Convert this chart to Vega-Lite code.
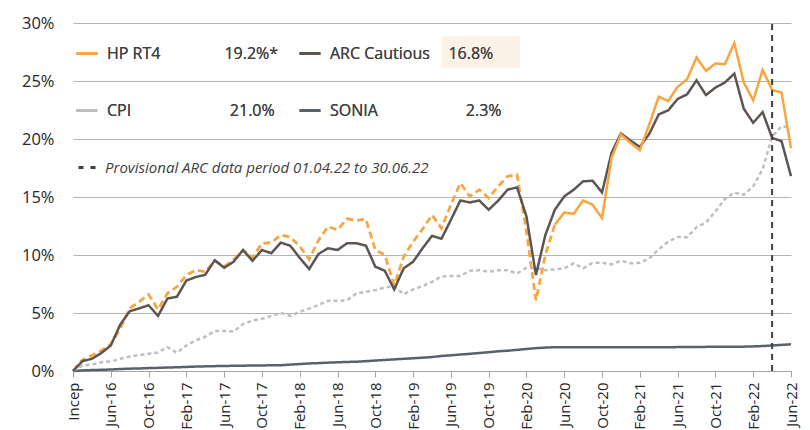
{
  "$schema": "https://vega.github.io/schema/vega-lite/v6.json",
  "width": 718,
  "height": 348,
  "autosize": {"type": "none"},
  "padding": {"left": 73, "top": 23, "right": 19, "bottom": 59},
  "background": "white",
  "config": {
    "view": {"stroke": null},
    "font": "Open Sans",
    "axisX": {"labelFlush": false, "labelAngle": -90, "labelAlign": "right", "labelBaseline": "middle", "labelFontSize": 15, "labelColor": "#262626", "labelPadding": 5, "tickSize": 6, "tickColor": "#A6A6A6", "domainColor": "#A6A6A6", "grid": false},
    "axisY": {"grid": true, "gridColor": "#B4B4B4", "domain": false, "ticks": false, "labelPadding": 19, "labelFontSize": 16.5, "labelColor": "#262626"}
  },
  "data": {"values": [
    {"m":0,"hp":0,"arc":0,"cpi":0,"sonia":0},
    {"m":1,"hp":0.95,"arc":0.85,"cpi":0.47,"sonia":0.05},
    {"m":2,"hp":1.34,"arc":1.05,"cpi":0.56,"sonia":0.08},
    {"m":3,"hp":1.77,"arc":1.55,"cpi":0.76,"sonia":0.10},
    {"m":4,"hp":2.3,"arc":2.2,"cpi":0.82,"sonia":0.13},
    {"m":5,"hp":3.65,"arc":4.0,"cpi":1.05,"sonia":0.17},
    {"m":6,"hp":5.4,"arc":5.15,"cpi":1.25,"sonia":0.20},
    {"m":7,"hp":5.96,"arc":5.4,"cpi":1.37,"sonia":0.22},
    {"m":8,"hp":6.6,"arc":5.67,"cpi":1.49,"sonia":0.25},
    {"m":9,"hp":5.3,"arc":4.75,"cpi":1.6,"sonia":0.27},
    {"m":10,"hp":6.7,"arc":6.25,"cpi":2.06,"sonia":0.30},
    {"m":11,"hp":7.26,"arc":6.4,"cpi":1.57,"sonia":0.32},
    {"m":12,"hp":8.27,"arc":7.8,"cpi":2.2,"sonia":0.35},
    {"m":13,"hp":8.7,"arc":8.1,"cpi":2.64,"sonia":0.38},
    {"m":14,"hp":8.55,"arc":8.3,"cpi":2.95,"sonia":0.40},
    {"m":15,"hp":9.5,"arc":9.55,"cpi":3.45,"sonia":0.42},
    {"m":16,"hp":9.0,"arc":8.9,"cpi":3.45,"sonia":0.43},
    {"m":17,"hp":9.6,"arc":9.42,"cpi":3.4,"sonia":0.45},
    {"m":18,"hp":10.4,"arc":10.43,"cpi":4.05,"sonia":0.46},
    {"m":19,"hp":9.8,"arc":9.5,"cpi":4.35,"sonia":0.47},
    {"m":20,"hp":11.0,"arc":10.43,"cpi":4.5,"sonia":0.48},
    {"m":21,"hp":11.07,"arc":10.15,"cpi":4.75,"sonia":0.49},
    {"m":22,"hp":11.73,"arc":11.07,"cpi":5.0,"sonia":0.50},
    {"m":23,"hp":11.55,"arc":10.8,"cpi":4.75,"sonia":0.55},
    {"m":24,"hp":10.75,"arc":9.75,"cpi":5.1,"sonia":0.60},
    {"m":25,"hp":9.63,"arc":8.79,"cpi":5.38,"sonia":0.65},
    {"m":26,"hp":11.3,"arc":10.1,"cpi":5.7,"sonia":0.68},
    {"m":27,"hp":12.45,"arc":10.58,"cpi":6.05,"sonia":0.72},
    {"m":28,"hp":12.16,"arc":10.43,"cpi":6.05,"sonia":0.75},
    {"m":29,"hp":13.12,"arc":11.01,"cpi":6.1,"sonia":0.78},
    {"m":30,"hp":12.97,"arc":11.01,"cpi":6.68,"sonia":0.80},
    {"m":31,"hp":13.09,"arc":10.81,"cpi":6.83,"sonia":0.85},
    {"m":32,"hp":10.43,"arc":8.99,"cpi":6.97,"sonia":0.90},
    {"m":33,"hp":10.0,"arc":8.64,"cpi":7.2,"sonia":0.95},
    {"m":34,"hp":7.4,"arc":7.03,"cpi":7.32,"sonia":1.00},
    {"m":35,"hp":9.85,"arc":8.85,"cpi":6.62,"sonia":1.05},
    {"m":36,"hp":11.15,"arc":9.42,"cpi":7.03,"sonia":1.10},
    {"m":37,"hp":12.23,"arc":10.58,"cpi":7.32,"sonia":1.15},
    {"m":38,"hp":13.46,"arc":11.65,"cpi":7.69,"sonia":1.20},
    {"m":39,"hp":12.3,"arc":11.4,"cpi":8.15,"sonia":1.30},
    {"m":40,"hp":14.33,"arc":13.03,"cpi":8.2,"sonia":1.35},
    {"m":41,"hp":16.2,"arc":14.7,"cpi":8.2,"sonia":1.42},
    {"m":42,"hp":15.05,"arc":14.53,"cpi":8.64,"sonia":1.48},
    {"m":43,"hp":15.63,"arc":14.7,"cpi":8.69,"sonia":1.55},
    {"m":44,"hp":14.91,"arc":13.9,"cpi":8.55,"sonia":1.62},
    {"m":45,"hp":15.92,"arc":14.68,"cpi":8.69,"sonia":1.70},
    {"m":46,"hp":16.78,"arc":15.63,"cpi":8.69,"sonia":1.75},
    {"m":47,"hp":16.93,"arc":15.83,"cpi":8.41,"sonia":1.82},
    {"m":48,"hp":12.0,"arc":13.32,"cpi":8.9,"sonia":1.90},
    {"m":49,"hp":6.1,"arc":8.27,"cpi":8.85,"sonia":1.97},
    {"m":50,"hp":10.0,"arc":11.73,"cpi":8.69,"sonia":2.02},
    {"m":51,"hp":12.6,"arc":13.9,"cpi":8.76,"sonia":2.05},
    {"m":52,"hp":13.66,"arc":15.05,"cpi":8.85,"sonia":2.05},
    {"m":53,"hp":13.55,"arc":15.63,"cpi":9.28,"sonia":2.05},
    {"m":54,"hp":14.7,"arc":16.35,"cpi":8.85,"sonia":2.05},
    {"m":55,"hp":14.33,"arc":16.4,"cpi":9.33,"sonia":2.05},
    {"m":56,"hp":13.18,"arc":15.39,"cpi":9.33,"sonia":2.05},
    {"m":57,"hp":18.37,"arc":18.8,"cpi":9.19,"sonia":2.05},
    {"m":58,"hp":20.39,"arc":20.48,"cpi":9.51,"sonia":2.05},
    {"m":59,"hp":19.67,"arc":19.87,"cpi":9.28,"sonia":2.05},
    {"m":60,"hp":19.03,"arc":19.32,"cpi":9.33,"sonia":2.05},
    {"m":61,"hp":21.26,"arc":20.45,"cpi":9.71,"sonia":2.05},
    {"m":62,"hp":23.65,"arc":22.12,"cpi":10.5,"sonia":2.05},
    {"m":63,"hp":23.27,"arc":22.47,"cpi":11.15,"sonia":2.05},
    {"m":64,"hp":24.5,"arc":23.45,"cpi":11.55,"sonia":2.06},
    {"m":65,"hp":25.15,"arc":23.85,"cpi":11.53,"sonia":2.06},
    {"m":66,"hp":27.03,"arc":25.06,"cpi":12.4,"sonia":2.06},
    {"m":67,"hp":25.87,"arc":23.79,"cpi":12.8,"sonia":2.08},
    {"m":68,"hp":26.51,"arc":24.43,"cpi":13.75,"sonia":2.08},
    {"m":69,"hp":26.45,"arc":24.87,"cpi":14.82,"sonia":2.08},
    {"m":70,"hp":28.27,"arc":25.64,"cpi":15.39,"sonia":2.08},
    {"m":71,"hp":24.87,"arc":22.61,"cpi":15.19,"sonia":2.10},
    {"m":72,"hp":23.33,"arc":21.4,"cpi":15.92,"sonia":2.12},
    {"m":73,"hp":25.96,"arc":22.32,"cpi":17.4,"sonia":2.15},
    {"m":74,"hp":24.23,"arc":20.1,"cpi":20.2,"sonia":2.20},
    {"m":75,"hp":24.0,"arc":19.81,"cpi":21.1,"sonia":2.25},
    {"m":76,"hp":19.2,"arc":16.8,"cpi":21.0,"sonia":2.30}
  ]},
  "layer": [
    {
      "data": {"values": [{"highlight": "ARC Cautious value"}]},
      "mark": {"type": "rect", "fill": "#FDF2E8"},
      "encoding": {
        "x": {"datum": 39.05, "type": "quantitative", "title": null,
          "axis": {"values": [0,4,8,12,16,20,24,28,32,36,40,44,48,52,56,60,64,68,72,76], "labelOverlap": false, "labelSeparation": 0,
            "labelExpr": "['Incep','Jun-16','Oct-16','Feb-17','Jun-17','Oct-17','Feb-18','Jun-18','Oct-18','Feb-19','Jun-19','Oct-19','Feb-20','Jun-20','Oct-20','Feb-21','Jun-21','Oct-21','Feb-22','Jun-22'][datum.value / 4]"}},
        "x2": {"datum": 47.3},
        "y": {"datum": 28.88, "type": "quantitative", "title": null,
          "axis": {"values": [0,5,10,15,20,25,30], "labelOverlap": false, "labelExpr": "datum.value + '%'"}},
        "y2": {"datum": 26.15}
      }
    },
    {
      "transform": [{"filter": "datum.m <= 51"}],
      "mark": {"type": "line", "color": "#F7A541", "strokeWidth": 2.75, "strokeDash": [7, 4]},
      "encoding": {
        "x": {"field": "m", "type": "quantitative", "title": null,
          "axis": {"values": [0,4,8,12,16,20,24,28,32,36,40,44,48,52,56,60,64,68,72,76], "labelOverlap": false, "labelSeparation": 0,
            "labelExpr": "['Incep','Jun-16','Oct-16','Feb-17','Jun-17','Oct-17','Feb-18','Jun-18','Oct-18','Feb-19','Jun-19','Oct-19','Feb-20','Jun-20','Oct-20','Feb-21','Jun-21','Oct-21','Feb-22','Jun-22'][datum.value / 4]"}},
        "y": {"field": "hp", "type": "quantitative", "title": null,
          "axis": {"values": [0,5,10,15,20,25,30], "labelOverlap": false, "labelExpr": "datum.value + '%'"}}
      }
    },
    {
      "transform": [
        {"fold": ["sonia", "cpi", "arc", "hp"], "as": ["series", "v"]},
        {"filter": "datum.series != 'hp' || datum.m >= 51"}
      ],
      "mark": {"type": "line", "strokeWidth": 2.5},
      "encoding": {
        "x": {
          "field": "m", "type": "quantitative", "title": null,
          "scale": {"domain": [0, 76], "nice": false, "zero": false},
          "axis": {"values": [0,4,8,12,16,20,24,28,32,36,40,44,48,52,56,60,64,68,72,76], "labelOverlap": false, "labelSeparation": 0,
            "labelExpr": "['Incep','Jun-16','Oct-16','Feb-17','Jun-17','Oct-17','Feb-18','Jun-18','Oct-18','Feb-19','Jun-19','Oct-19','Feb-20','Jun-20','Oct-20','Feb-21','Jun-21','Oct-21','Feb-22','Jun-22'][datum.value / 4]"}
        },
        "y": {
          "field": "v", "type": "quantitative", "title": null,
          "scale": {"domain": [0, 30], "nice": false},
          "axis": {"values": [0,5,10,15,20,25,30], "labelOverlap": false, "labelExpr": "datum.value + '%'"}
        },
        "color": {
          "field": "series", "type": "nominal",
          "scale": {"domain": ["hp", "cpi", "arc", "sonia"], "range": ["#F7A541", "#BFBFBF", "#5E5452", "#5A6169"]},
          "legend": {
            "title": null, "orient": "none", "legendX": 2, "legendY": 18.5,
            "columns": 2, "columnPadding": 14, "rowPadding": 37, "gridAlign": "each",
            "symbolType": "stroke", "symbolSize": 441, "symbolStrokeWidth": 3,
            "labelFontSize": 16, "labelColor": "#404040", "labelOffset": 8, "labelLimit": 400, "padding": 0,
            "labelExpr": "datum.label == 'hp' ? 'HP RT4\u2003\u2003\u2003\u200319.2%*' : datum.label == 'arc' ? 'ARC Cautious\u2003\u200916.8%' : datum.label == 'cpi' ? 'CPI\u2003\u2003\u2003\u2003\u2003\u2003\u200921.0%' : 'SONIA\u2003\u2003\u2003\u2003\u2003\u20022.3%'"
          }
        },
        "strokeDash": {
          "field": "series", "type": "nominal",
          "scale": {"domain": ["hp", "cpi", "arc", "sonia"], "range": [[1, 0], [4, 3], [1, 0], [1, 0]]},
          "legend": {
            "title": null, "orient": "none", "legendX": 2, "legendY": 18.5,
            "columns": 2, "columnPadding": 14, "rowPadding": 37, "gridAlign": "each",
            "symbolType": "stroke", "symbolSize": 441, "symbolStrokeWidth": 3,
            "labelFontSize": 16, "labelColor": "#404040", "labelOffset": 8, "labelLimit": 400, "padding": 0,
            "labelExpr": "datum.label == 'hp' ? 'HP RT4\u2003\u2003\u2003\u200319.2%*' : datum.label == 'arc' ? 'ARC Cautious\u2003\u200916.8%' : datum.label == 'cpi' ? 'CPI\u2003\u2003\u2003\u2003\u2003\u2003\u200921.0%' : 'SONIA\u2003\u2003\u2003\u2003\u2003\u20022.3%'"
          }
        }
      }
    },
    {
      "data": {"values": [{"m": 74, "event": "Provisional ARC data period 01.04.22 to 30.06.22"}]},
      "mark": {"type": "rule", "strokeWidth": 2, "strokeDash": [6, 5]},
      "encoding": {
        "x": {"field": "m", "type": "quantitative", "title": null,
          "axis": {"values": [0,4,8,12,16,20,24,28,32,36,40,44,48,52,56,60,64,68,72,76], "labelOverlap": false, "labelSeparation": 0,
            "labelExpr": "['Incep','Jun-16','Oct-16','Feb-17','Jun-17','Oct-17','Feb-18','Jun-18','Oct-18','Feb-19','Jun-19','Oct-19','Feb-20','Jun-20','Oct-20','Feb-21','Jun-21','Oct-21','Feb-22','Jun-22'][datum.value / 4]"}},
        "y": {"datum": 0, "type": "quantitative", "title": null,
          "axis": {"values": [0,5,10,15,20,25,30], "labelOverlap": false, "labelExpr": "datum.value + '%'"}},
        "y2": {"datum": 30},
        "color": {
          "field": "event", "type": "nominal",
          "scale": {"range": ["#404040"]},
          "legend": {
            "title": null, "orient": "none", "legendX": 4, "legendY": 133,
            "symbolType": "stroke", "symbolSize": 400, "symbolStrokeWidth": 3, "symbolDash": [5, 7],
            "labelFontSize": 15, "labelFontStyle": "italic", "labelColor": "#404040",
            "labelOffset": 5, "labelLimit": 500, "padding": 0
          }
        }
      }
    }
  ],
  "resolve": {"scale": {"color": "independent"}}
}
